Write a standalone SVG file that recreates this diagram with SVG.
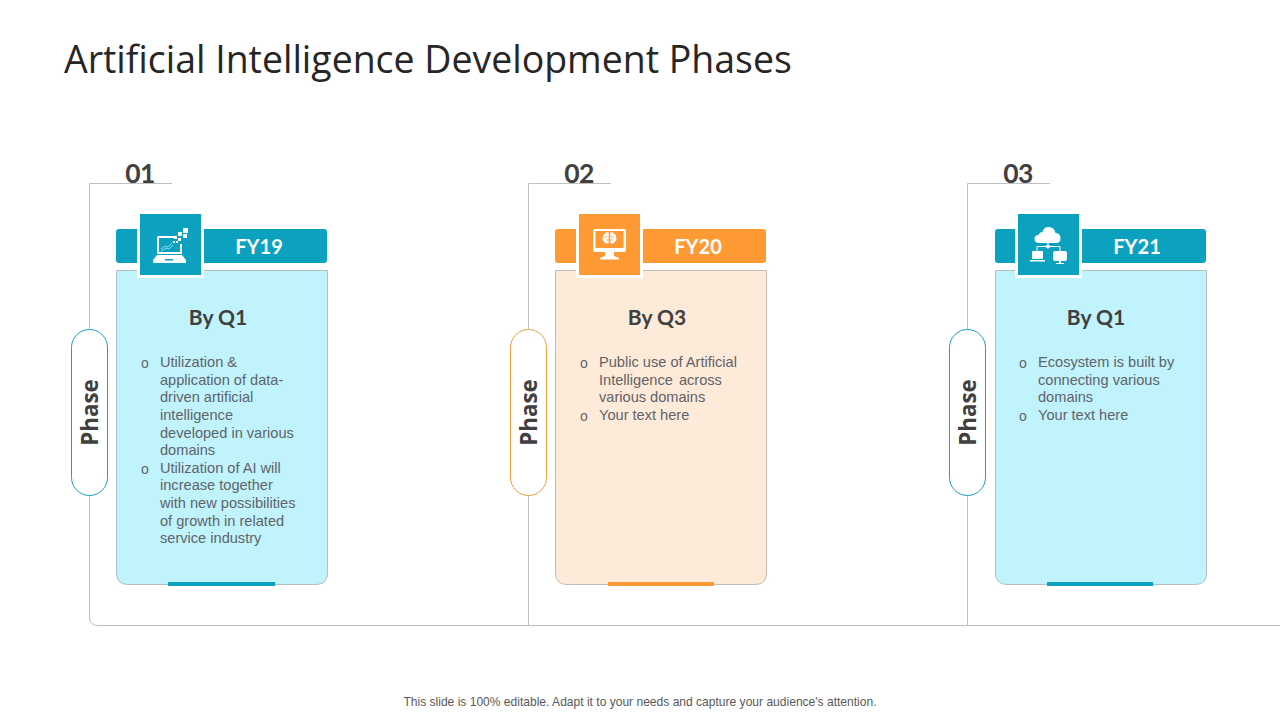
<svg xmlns="http://www.w3.org/2000/svg" width="1280" height="720" viewBox="0 0 1280 720">
<style>
.conn{fill:none;stroke:#bfbfbf;stroke-width:1}
.num{font:700 26.500px Lato,"Open Sans",sans-serif;fill:#404040;text-anchor:middle;letter-spacing:-.5px}
.fy{font:700 20px Lato,"Liberation Sans",sans-serif;fill:#fff;text-anchor:middle}
.q{font:700 21px Lato,"Liberation Sans",sans-serif;fill:#404040;text-anchor:middle}
.ph{font:700 22.400px "Open Sans","DejaVu Sans",sans-serif;fill:#404040;text-anchor:middle}
.b{font:14.600px "Liberation Sans",Arial,sans-serif;fill:#5f6468}
.bu{font:14px "Liberation Sans",Arial,sans-serif;fill:#5f6468}
.blue .bar,.blue .sq,.blue .acc{fill:#0ba1bf}
.org .bar,.org .sq,.org .acc{fill:#ff9933}
.blue .card{fill:#c1f3fd;stroke:#b5bfc2}
.org .card{fill:#feead8;stroke:#c4bdb6}
.blue .pill{fill:#fff;stroke:#1f9fc0}
.org .pill{fill:#fff;stroke:#f0a040}
.ic{fill:#fff}
.il{fill:none;stroke:#fff;stroke-width:1}
</style>
<text x="64" y="73" font-family="Open Sans,DejaVu Sans,sans-serif" font-size="37.450" fill="#262626">Artificial Intelligence Development Phases</text>
<g id="connectors">
<path class="conn" d="M172 183.500H89.500V617Q89.500 625.500 98 625.500H1280"/>
<path class="conn" d="M611 183.500H528.500V625.500"/>
<path class="conn" d="M1050 183.500H967.500V625.500"/>
</g>
<g id="phase1" class="blue">
<text class="num" x="140" y="183">01</text>
<rect class="pill" x="71.500" y="329.500" width="36" height="166" rx="18"/>
<text class="ph" transform="translate(98 412.500) rotate(-90)">Phase</text>
<rect class="bar" x="116" y="229" width="211" height="34" rx="3"/>
<path class="card" d="M116.500 270.500H327.500V573Q327.500 584.500 316 584.500H128Q116.500 584.500 116.500 573Z"/>
<rect class="acc" x="168" y="582" width="107" height="4"/>
<rect x="137" y="211" width="67" height="67" fill="#fff"/>
<rect class="sq" x="140" y="214" width="61" height="61"/>
<g id="icon1">
<path class="ic" d="M157 236h17v2h-15v14h21v-8h2v10h-25zM157 255h25l4 5v3h-33v-3z"/>
<path d="M161 249l4-3 3 1 4-4M161 251l5-3 3 1 4-4" fill="none" stroke="#7fdcec" stroke-width="1"/>
<path class="ic" d="M183 228h5v5h-5zM178 232h4v4h-4zM183 234h4v4h-4zM174 236h3v3h-3zM178 238h3v3h-3zM173 241h2v2h-2zM176 241h2v2h-2z"/>
<rect x="165" y="259" width="8" height="1.500" fill="#0ba1bf"/>
</g>
<text class="fy" x="259" y="254">FY19</text>
<text class="q" x="218" y="325">By Q1</text>
<text class="bu" x="141" y="368">o</text>
<text class="b" x="160" y="367">Utilization &amp;</text>
<text class="b" x="160" y="385">application of data-</text>
<text class="b" x="160" y="402">driven artificial</text>
<text class="b" x="160" y="420">intelligence</text>
<text class="b" x="160" y="438">developed in various</text>
<text class="b" x="160" y="455">domains</text>
<text class="bu" x="141" y="474">o</text>
<text class="b" x="160" y="473">Utilization of AI will</text>
<text class="b" x="160" y="490">increase together</text>
<text class="b" x="160" y="508">with new possibilities</text>
<text class="b" x="160" y="526">of growth in related</text>
<text class="b" x="160" y="543">service industry</text>
</g>
<g id="phase2" class="org">
<text class="num" x="579" y="183">02</text>
<rect class="pill" x="510.500" y="329.500" width="36" height="166" rx="18"/>
<text class="ph" transform="translate(537 412.500) rotate(-90)">Phase</text>
<rect class="bar" x="555" y="229" width="211" height="34" rx="3"/>
<path class="card" d="M555.500 270.500H766.500V573Q766.500 584.500 755 584.500H567Q555.500 584.500 555.500 573Z"/>
<rect class="acc" x="608" y="582" width="106" height="4"/>
<rect x="576" y="211" width="67" height="67" fill="#fff"/>
<rect class="sq" x="579" y="214" width="61" height="61"/>
<g id="icon2">
<path class="ic" fill-rule="evenodd" d="M595 229h29q2 0 2 2v19q0 2-2 2h-10v4l5 2v1.500h-19v-1.500l5-2v-4h-10q-2 0-2-2v-19q0-2 2-2zM595.500 231v17h28v-17z"/>
<path class="ic" d="M608.700 232.500q-3-1-4 1.500-2.500 1-1.700 3.500-1.500 2.500 1 4 .5 2.500 3.500 2l1.200-.5v-10zM610.300 232.500q3-1 4 1.500 2.500 1 1.700 3.500 1.500 2.500-1 4-.5 2.500-3.500 2l-1.200-.5v-10z"/>
<path d="M604.500 237h3M606 240h3M611 237h3M610 240h3" stroke="#ff9933" stroke-width=".8" fill="none"/>
</g>
<text class="fy" x="698" y="254">FY20</text>
<text class="q" x="657" y="325">By Q3</text>
<text class="bu" x="580" y="368">o</text>
<text class="b" x="599" y="367">Public use of Artificial</text>
<text class="b" x="599" y="385" word-spacing="2">Intelligence across</text>
<text class="b" x="599" y="402">various domains</text>
<text class="bu" x="580" y="421">o</text>
<text class="b" x="599" y="420">Your text here</text>
</g>
<g id="phase3" class="blue">
<text class="num" x="1018" y="183">03</text>
<rect class="pill" x="949.500" y="329.500" width="36" height="166" rx="18"/>
<text class="ph" transform="translate(976 412.500) rotate(-90)">Phase</text>
<rect class="bar" x="995" y="229" width="211" height="34" rx="3"/>
<path class="card" d="M995.500 270.500H1206.500V573Q1206.500 584.500 1195 584.500H1007Q995.500 584.500 995.500 573Z"/>
<rect class="acc" x="1047" y="582" width="106" height="4"/>
<rect x="1015" y="211" width="67" height="67" fill="#fff"/>
<rect class="sq" x="1018" y="214" width="61" height="61"/>
<g id="icon3">
<path class="ic" d="M1039 243q-4.500 0-4.500-4t4-4q1-3 4-3 1-5 6-5 6 0 7 6 5 0 5 5.500 0 4.500-5 4.500z"/>
<path class="il" d="M1037 252V246.500H1060V252M1048 243V246.500"/>
<circle class="ic" cx="1048" cy="246.500" r="2"/>
<rect x="1032" y="251" width="11" height="8" rx="1" class="ic"/>
<rect x="1030" y="260" width="15" height="1.500" class="ic"/>
<rect x="1053" y="251" width="14" height="10" rx="2" class="ic"/>
<path class="ic" d="M1059 261h2v2h3v1h-8v-1h3z"/>
</g>
<text class="fy" x="1137" y="254">FY21</text>
<text class="q" x="1096" y="325">By Q1</text>
<text class="bu" x="1019" y="368">o</text>
<text class="b" x="1038" y="367">Ecosystem is built by</text>
<text class="b" x="1038" y="385">connecting various</text>
<text class="b" x="1038" y="402">domains</text>
<text class="bu" x="1019" y="421">o</text>
<text class="b" x="1038" y="420">Your text here</text>
</g>
<text x="640" y="706" text-anchor="middle" font-family="Liberation Sans,Arial,sans-serif" font-size="12.060" fill="#595959">This slide is 100% editable. Adapt it to your needs and capture your audience's attention.</text>
</svg>
